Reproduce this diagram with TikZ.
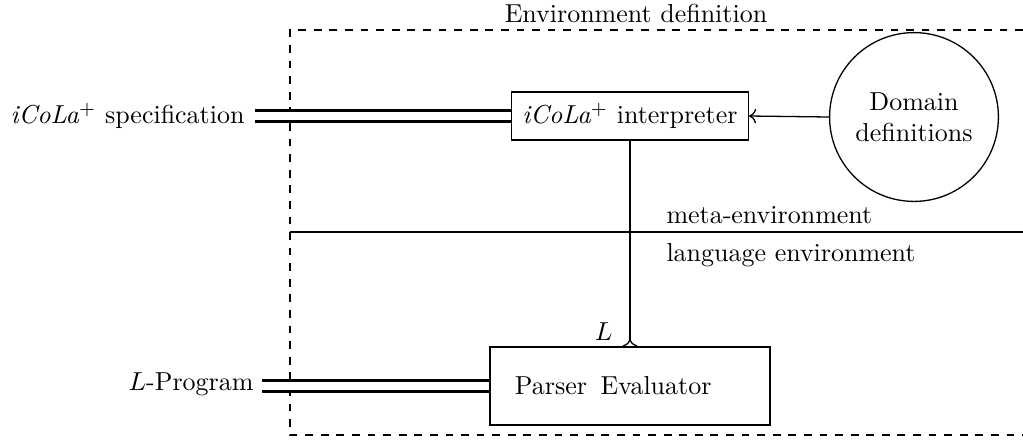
\documentclass[tikz,border=0pt]{standalone}
\usetikzlibrary{arrows.meta}
\begin{document}
\begin{tikzpicture}[x=0.385pt,y=-0.385pt,
  box/.style={draw,line width=0.5pt,inner sep=0pt},
  feed/.style={double,line width=0.85pt,double distance=3.4pt},
  lbl/.style={inner sep=0pt}]
\useasboundingbox (0,0) rectangle (1023,441);
% environment frame (open on the right)
\draw[dashed,line width=0.4pt] (1023,30) -- (290,30) -- (290,435) -- (1023,435);
\node[lbl] (envtitle) at (636,13) {Environment definition};
% meta/language split
\coordinate (splitL) at (290,232);
\coordinate (splitR) at (1023,232);
\draw[line width=0.5pt] (splitL) -- (splitR);
\node[lbl,anchor=west] (meta) at (666,215) {meta-environment};
\node[lbl,anchor=west] (langenv) at (666,255) {language environment};
% interpreter and domain definitions
\node[box,minimum width=91.2pt,minimum height=18.5pt] (interp) at (630,116) {\textit{iCoLa}$^{+}$ interpreter};
\node[draw,circle,line width=0.5pt,minimum size=65pt,inner sep=0pt,align=center] (domain) at (914,117) {Domain\\definitions};
\draw[line width=0.5pt,->] (domain.west) -- (interp.east);
% specification input
\node[inner sep=0pt,anchor=east] (spec) at (245,116) {\textit{iCoLa}$^{+}$ specification};
\draw[feed] ([xshift=3.8pt]spec.east) -- (interp.west);
% parser / evaluator
\node[box,minimum width=107.8pt,minimum height=30pt] (parser) at (630,386) {};
\node[lbl] (parsetxt) at (551,386) {Parser};
\node[lbl] (evaltxt) at (656,386) {Evaluator};
\node[inner sep=0pt,anchor=east] (prog) at (254,384) {$L$-Program};
\draw[feed] ([xshift=3pt]prog.east |- parser.west) -- (parser.west);
% generated language
\draw[line width=0.5pt,-{To[reversed]}] (interp.south) -- (parser.north);
\node[inner sep=0pt,anchor=south east] (Llbl) at ([xshift=-6.5pt,yshift=2pt]parser.north) {$L$};
\end{tikzpicture}
\end{document}
